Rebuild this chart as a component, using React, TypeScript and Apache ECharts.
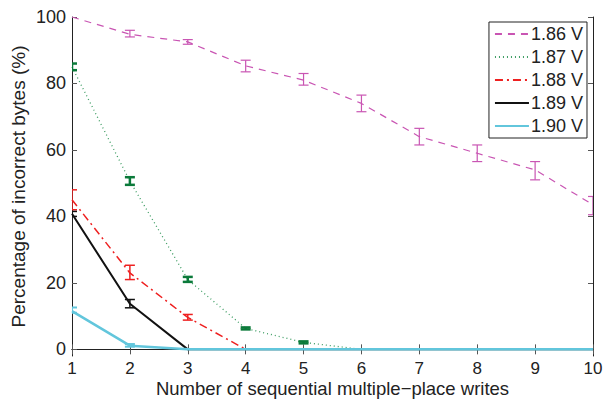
import React, { useEffect, useRef } from "react";
import * as echarts from "echarts";

const xs = [1, 2, 3, 4, 5, 6, 7, 8, 9, 10];
const names = ["1.86 V", "1.87 V", "1.88 V", "1.89 V", "1.90 V"];
const v186 = [100, 94.8, 92.5, 85.3, 81, 74, 64, 59, 54, 43.5];
const v187 = [85, 50.6, 21, 6.3, 2.1, 0, 0, 0, 0, 0];
const v188 = [45, 23, 9.6, 0, 0, 0, 0, 0, 0, 0];
const v189 = [40.8, 13.7, 0, 0, 0, 0, 0, 0, 0, 0];
const v190 = [11.5, 1.1, 0, 0, 0, 0, 0, 0, 0, 0];
// error bars: [x, low, high]
const e186 = [[2, 94, 96], [3, 91.8, 93.2], [4, 83.5, 87], [5, 79.5, 83], [6, 71.5, 76.5], [7, 61.5, 66.5], [8, 56.5, 61.5], [9, 51, 56.5], [10, 40.5, 46]];
const e187 = [[1, 84, 86], [2, 49.5, 51.8], [3, 20.3, 21.8], [4, 6, 6.6], [5, 1.8, 2.4]];
const e188 = [[1, 42, 48], [2, 21, 25.3], [3, 8.8, 10.5]];
const e189 = [[1, 40, 41.5], [2, 12.5, 15]];
const e190 = [[1, 11, 12.6], [2, 0.8, 1.6]];
const yTicks = [0, 20, 40, 60, 80, 100];

const FONT = "Liberation Sans, Arial, sans-serif";

function errSeries(data: number[][], color: string, lw: number) {
  return {
    type: "custom",
    silent: true,
    clip: true,
    data,
    encode: { x: 0, y: [1, 2] },
    renderItem: (params: any, api: any) => {
      const x = api.value(0);
      const lo = api.coord([x, api.value(1)]);
      const hi = api.coord([x, api.value(2)]);
      const w = 5;
      const st = { stroke: color, lineWidth: lw };
      return {
        type: "group",
        children: [
          { type: "line", shape: { x1: lo[0], y1: lo[1], x2: hi[0], y2: hi[1] }, style: st },
          { type: "line", shape: { x1: lo[0] - w, y1: lo[1], x2: lo[0] + w, y2: lo[1] }, style: st },
          { type: "line", shape: { x1: hi[0] - w, y1: hi[1], x2: hi[0] + w, y2: hi[1] }, style: st },
        ],
      };
    },
    z: 3,
  };
}

function lineSeries(name: string, vals: number[], color: string, width: number, type: any) {
  return {
    name,
    type: "line",
    data: xs.map((x, i) => [x, vals[i]]),
    symbol: "none",
    lineStyle: { color, width, type },
    itemStyle: { color },
    z: 2,
  };
}

export default function App() {
  const ref = useRef<HTMLDivElement>(null);
  useEffect(() => {
    const chart = echarts.init(ref.current!, null, { renderer: "svg" });
    const axisLine = { show: true, lineStyle: { color: "#222", width: 1 } };
    const tick = { show: true, inside: true, length: 5, lineStyle: { color: "#555" } };
    chart.setOption({
      animation: false,
      backgroundColor: "#fff",
      grid: { left: 72, right: 12, top: 17, bottom: 44, outerBoundsMode: "none", containLabel: false },
      legend: {
        orient: "vertical",
        right: 18,
        top: 22,
        itemWidth: 34,
        itemHeight: 16,
        itemGap: 5,
        padding: [3, 4, 3, 5],
        borderColor: "#222",
        borderWidth: 1,
        backgroundColor: "#fff",
        data: names,
        itemStyle: { opacity: 0 },
        textStyle: { fontFamily: FONT, fontSize: 18, color: "#222", padding: [0, 0, 0, -3] },
      },
      xAxis: [
        {
          type: "value",
          min: 1,
          max: 10,
          interval: 1,
          axisLine,
          axisTick: tick,
          splitLine: { show: false },
          axisLabel: { fontFamily: FONT, fontSize: 17, color: "#222", margin: 4 },
          name: "Number of sequential multiple\u2212place writes",
          nameLocation: "middle",
          nameGap: 23,
          nameMoveOverlap: false,
          nameTextStyle: { fontFamily: FONT, fontSize: 18.5, color: "#222" },
        },
        {
          type: "value",
          position: "top",
          min: 1,
          max: 10,
          interval: 1,
          axisLine,
          axisTick: tick,
          axisLabel: { show: false },
          splitLine: { show: false },
        },
      ],
      yAxis: [
        {
          type: "value",
          min: -2,
          max: 100,
          axisLine,
          axisTick: { ...tick, customValues: yTicks },
          splitLine: { show: false },
          axisLabel: { fontFamily: FONT, fontSize: 18, color: "#222", margin: 6, customValues: yTicks },
          name: "Percentage of incorrect bytes (%)",
          nameLocation: "middle",
          nameGap: 44,
          nameMoveOverlap: false,
          nameTextStyle: { fontFamily: FONT, fontSize: 19, color: "#222" },
        },
        {
          type: "value",
          position: "right",
          min: -2,
          max: 100,
          axisLine,
          axisTick: { ...tick, customValues: yTicks },
          axisLabel: { show: false },
          splitLine: { show: false },
        },
      ],
      series: [
        lineSeries(names[0], v186, "#c955b3", 1.2, [7, 6]),
        lineSeries(names[1], v187, "#3c9c62", 1.3, [1, 3]),
        lineSeries(names[2], v188, "#ee2020", 1.5, [8, 4, 2, 4]),
        lineSeries(names[3], v189, "#111111", 2, "solid"),
        lineSeries(names[4], v190, "#62c6dc", 2.5, "solid"),
        errSeries(e186, "#c955b3", 1.2),
        errSeries(e187, "#0b7a3a", 2.5),
        errSeries(e188, "#ee2020", 1.5),
        errSeries(e189, "#111111", 1.5),
        errSeries(e190, "#62c6dc", 2),
      ],
    });
    return () => chart.dispose();
  }, []);
  return <div ref={ref} style={{ width: 605, height: 400, position: "absolute", left: 0, top: 0 }} />;
}
